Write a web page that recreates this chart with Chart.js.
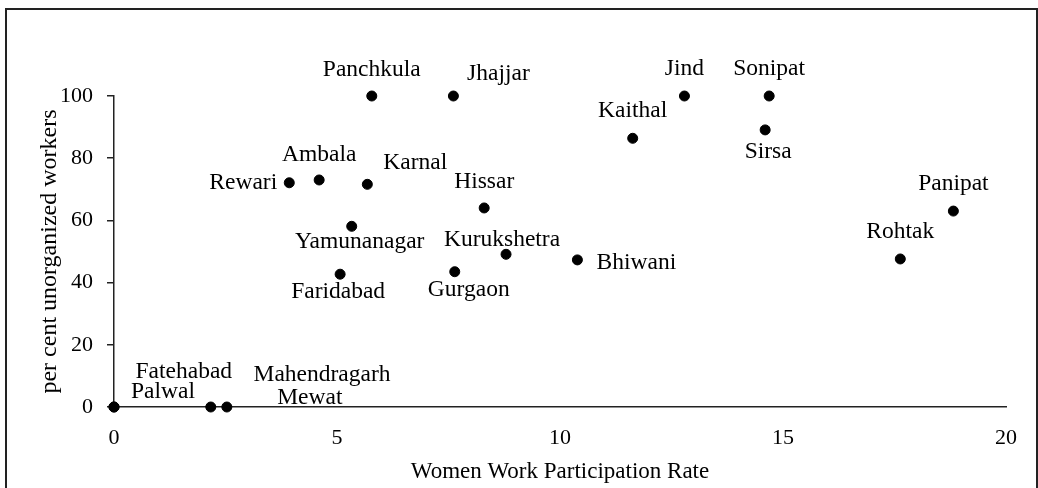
<!DOCTYPE html>
<html lang="en">
<head>
    <meta charset="UTF-8">
    <title>Women Work Participation Rate vs unorganized workers</title>
    <script src="https://cdn.jsdelivr.net/npm/chart.js"></script>
    <style>
        body {
            margin: 0;
            background: #fff;
            overflow: hidden;
        }
        .frame {
            position: absolute;
            left: 5px;
            top: 8px;
            width: 1029px;
            height: 500px;
            border: 2px solid #222;
        }
        .wrap {
            position: absolute;
            left: 0;
            top: 0;
            width: 1038px;
            height: 488px;
        }
    </style>
</head>
<body>
    <div class="frame"></div>
    <div class="wrap"><canvas id="scatterChart" width="1038" height="488"></canvas></div>

    <script>
        // districts of Haryana
        const districts = ['Panchkula', 'Jhajjar', 'Rewari', 'Ambala', 'Karnal', 'Hissar', 'Yamunanagar',
            'Kurukshetra', 'Bhiwani', 'Faridabad', 'Gurgaon', 'Jind', 'Sonipat', 'Kaithal', 'Sirsa',
            'Panipat', 'Rohtak', 'Fatehabad', 'Palwal', 'Mahendragarh', 'Mewat'];
        const wpr = [5.78, 7.61, 3.93, 4.60, 5.68, 8.30, 5.33,
            8.79, 10.39, 5.07, 7.64, 12.79, 14.69, 11.63, 14.60,
            18.82, 17.63, 2.17, 0, 0, 2.53];
        const unorganized = [100, 100, 72.1, 73.0, 71.6, 64.0, 58.1,
            49.1, 47.3, 42.7, 43.5, 100, 100, 86.4, 89.1,
            63.0, 47.6, 0, 0, 0, 0];
        const xTicks = [0, 5, 10, 15, 20];
        const yTicks = [0, 20, 40, 60, 80, 100];

        // where each name sits relative to its dot (px)
        const labelOffsets = {
            Panchkula: [0, -26], Jhajjar: [45, -22], Rewari: [-46, 0], Ambala: [0, -25],
            Karnal: [48, -21], Hissar: [0, -26], Yamunanagar: [8, 16], Kurukshetra: [-4, -14],
            Bhiwani: [59, 3], Faridabad: [-2, 18], Gurgaon: [14, 18], Jind: [0, -27],
            Sonipat: [0, -27], Kaithal: [0, -27], Sirsa: [3, 22], Panipat: [0, -27],
            Rohtak: [0, -27], Fatehabad: [-27, -35], Palwal: [49, -15],
            Mahendragarh: [208, -32], Mewat: [83, -9]
        };

        const serif = "'Liberation Serif', 'Times New Roman', serif";

        const pointLabels = {
            id: 'pointLabels',
            afterDatasetsDraw(chart) {
                const ctx = chart.ctx;
                const meta = chart.getDatasetMeta(0);
                ctx.save();
                ctx.font = '23.5px ' + serif;
                ctx.fillStyle = '#000';
                ctx.textAlign = 'center';
                ctx.textBaseline = 'middle';
                meta.data.forEach((pt, i) => {
                    const off = labelOffsets[districts[i]] || [0, -26];
                    ctx.fillText(districts[i], pt.x + off[0], pt.y + off[1]);
                });
                ctx.restore();
            }
        };

        new Chart(document.getElementById('scatterChart').getContext('2d'), {
            type: 'scatter',
            data: {
                datasets: [{
                    label: 'Districts',
                    data: wpr.map((x, i) => ({ x: x, y: unorganized[i] })),
                    backgroundColor: '#000',
                    borderColor: '#000',
                    pointRadius: 5,
                    clip: false
                }]
            },
            options: {
                responsive: false,
                animation: false,
                devicePixelRatio: 1,
                layout: {
                    padding: { left: 0, top: 96, right: 32, bottom: 0 }
                },
                plugins: {
                    legend: { display: false },
                    tooltip: { enabled: false }
                },
                scales: {
                    x: {
                        type: 'linear',
                        min: 0,
                        max: 20,
                        afterBuildTicks: s => { s.ticks = xTicks.map(v => ({ value: v })); },
                        afterFit: s => { s.height = 81; },
                        grid: { drawOnChartArea: false, drawTicks: false },
                        border: { display: true, color: '#222', width: 1.5 },
                        ticks: {
                            color: '#000',
                            padding: 18,
                            maxRotation: 0,
                            font: { family: serif, size: 22 }
                        },
                        title: {
                            display: true,
                            text: 'Women Work Participation Rate',
                            color: '#000',
                            padding: { top: 0, bottom: 2.5 },
                            font: { family: serif, size: 23 }
                        }
                    },
                    y: {
                        type: 'linear',
                        min: 0,
                        max: 100,
                        afterBuildTicks: s => { s.ticks = yTicks.map(v => ({ value: v })); },
                        afterFit: s => { s.width = 114; },
                        grid: { drawOnChartArea: false, drawTicks: true, tickLength: 7, color: '#222', lineWidth: 1.5 },
                        border: { display: true, color: '#222', width: 1.5 },
                        ticks: {
                            color: '#000',
                            padding: 14,
                            font: { family: serif, size: 22 }
                        },
                        title: {
                            display: true,
                            text: 'per cent unorganized workers',
                            color: '#000',
                            padding: { top: 35, bottom: 0 },
                            font: { family: serif, size: 24 }
                        }
                    }
                }
            },
            plugins: [pointLabels]
        });
    </script>
</body>
</html>
